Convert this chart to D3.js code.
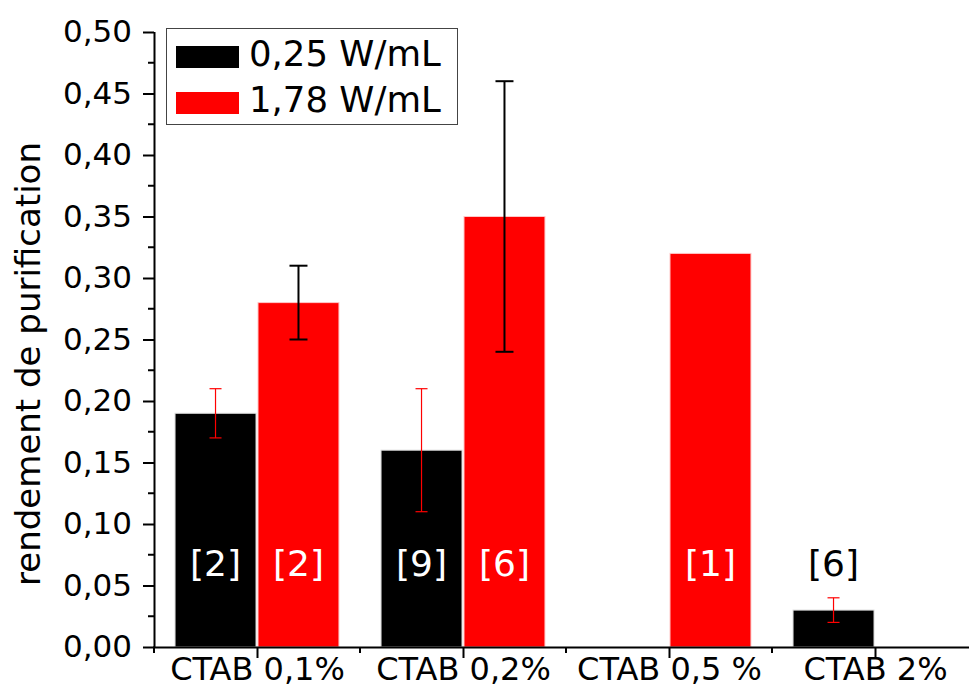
<!DOCTYPE html>
<html>
<head>
<meta charset="utf-8">
<script src="https://cdn.jsdelivr.net/npm/d3@7"></script>
<style>
  html, body { margin: 0; padding: 0; background: #fff; }
  svg { display: block; font-family: "DejaVu Sans", Verdana, sans-serif; }
</style>
</head>
<body>
<svg id="chart" width="969" height="688"></svg>
<script>
// ---- data ----
const categories = ["CTAB 0,1%", "CTAB 0,2%", "CTAB 0,5 %", "CTAB 2%"];
const seriesNames = ["0,25 W/mL", "1,78 W/mL"];
const lowPowerValues = [0.19, 0.16, null, 0.03];
const lowPowerErrLow = [0.17, 0.11, null, 0.02];
const lowPowerErrHigh = [0.21, 0.21, null, 0.04];
const highPowerValues = [0.28, 0.35, 0.32, null];
const highPowerErrLow = [0.25, 0.24, null, null];
const highPowerErrHigh = [0.31, 0.46, null, null];
const lowPowerCounts = ["[2]", "[9]", null, "[6]"];
const highPowerCounts = ["[2]", "[6]", "[1]", null];
const yTickValues = [0, 0.05, 0.10, 0.15, 0.20, 0.25, 0.30, 0.35, 0.40, 0.45, 0.50];
const yTitle = "rendement de purification";

// ---- layout ----
const svg = d3.select("#chart");
const mLeft = 154, mBottom = 647, mTop = 32, mRight = 978;
const x = d3.scaleLinear().domain([0.5, 4.5]).range([mLeft, mRight]);
const y = d3.scaleLinear().domain([0, 0.5]).range([mBottom, mTop]);
const unit = x(2) - x(1);
const barW = unit * 0.393;
const gap = 1;
const labelValue = 0.058;
const fmt = v => d3.format(".2f")(v).replace(".", ",");

const g = svg.append("g");

const lowData = categories.map((c, i) => ({i, v: lowPowerValues[i], lo: lowPowerErrLow[i], hi: lowPowerErrHigh[i], lab: lowPowerCounts[i]}));
const highData = categories.map((c, i) => ({i, v: highPowerValues[i], lo: highPowerErrLow[i], hi: highPowerErrHigh[i], lab: highPowerCounts[i]}));

// bars
g.selectAll("rect.low").data(lowData.filter(d => d.v != null)).join("rect")
  .attr("class", "low")
  .attr("x", d => x(d.i + 1) - barW - gap)
  .attr("width", barW)
  .attr("y", d => y(d.v))
  .attr("height", d => y(0) - y(d.v))
  .attr("fill", "#000")
  .attr("stroke", "#d8d8d8").attr("stroke-width", 1);

g.selectAll("rect.high").data(highData.filter(d => d.v != null)).join("rect")
  .attr("class", "high")
  .attr("x", d => x(d.i + 1) + gap)
  .attr("width", barW)
  .attr("y", d => y(d.v))
  .attr("height", d => y(0) - y(d.v))
  .attr("fill", "#ff0000")
  .attr("stroke", "#ffc8c8").attr("stroke-width", 1);

// error bars
function errBars(data, cxFn, color, sw, capW) {
  const e = g.append("g");
  data.filter(d => d.lo != null).forEach(d => {
    const cx = cxFn(d);
    e.append("line").attr("x1", cx).attr("x2", cx).attr("y1", y(d.lo)).attr("y2", y(d.hi))
      .attr("stroke", color).attr("stroke-width", sw);
    [d.lo, d.hi].forEach(v => {
      e.append("line").attr("x1", cx - capW / 2).attr("x2", cx + capW / 2)
        .attr("y1", y(v)).attr("y2", y(v)).attr("stroke", color).attr("stroke-width", sw);
    });
  });
}
errBars(lowData, d => x(d.i + 1) - gap - barW / 2, "#ff0000", 1.2, 12);
errBars(highData, d => x(d.i + 1) + gap + barW / 2, "#000", 2, 18);

// count labels
g.selectAll("text.lowlab").data(lowData.filter(d => d.lab)).join("text")
  .attr("x", d => x(d.i + 1) - gap - barW / 2)
  .attr("y", d => y(labelValue))
  .attr("text-anchor", "middle")
  .attr("font-size", 36)
  .attr("fill", d => d.v > labelValue ? "#fff" : "#000")
  .text(d => d.lab);
g.selectAll("text.highlab").data(highData.filter(d => d.lab)).join("text")
  .attr("x", d => x(d.i + 1) + gap + barW / 2)
  .attr("y", d => y(labelValue))
  .attr("text-anchor", "middle")
  .attr("font-size", 36)
  .attr("fill", d => d.v > labelValue ? "#fff" : "#000")
  .text(d => d.lab);

// y axis
const yAxis = d3.axisLeft(y).tickValues(yTickValues).tickFormat(fmt).tickSize(11).tickPadding(11);
const yg = svg.append("g").attr("transform", `translate(${mLeft},0)`).call(yAxis);
yg.select(".domain").attr("d", `M0.5,${mTop}V${mBottom}`).attr("stroke-width", 2);
yg.selectAll(".tick line").attr("stroke-width", 2);
yg.selectAll(".tick text").attr("font-size", 31).attr("font-family", "DejaVu Sans").attr("fill", "#000");
const minorY = d3.range(0.025, 0.5, 0.05);
yg.selectAll("line.minor").data(minorY).join("line").attr("class", "minor")
  .attr("x1", -6).attr("x2", 0).attr("y1", d => y(d)).attr("y2", d => y(d))
  .attr("stroke", "#000").attr("stroke-width", 2);

// x axis
const xAxis = d3.axisBottom(x).tickValues([1, 2, 3, 4]).tickFormat(d => categories[d - 1]).tickSize(11).tickPadding(5);
const xg = svg.append("g").attr("transform", `translate(0,${mBottom})`).call(xAxis);
xg.select(".domain").attr("d", `M${mLeft - 1},0.5H${mRight}`).attr("stroke-width", 2);
xg.selectAll(".tick line").attr("stroke-width", 2);
xg.selectAll(".tick text").attr("font-size", 32).attr("font-family", "DejaVu Sans").attr("fill", "#000")
  .attr("dy", null).attr("y", 33);
const minorX = [0.5, 1.5, 2.5, 3.5, 4.5];
xg.selectAll("line.minor").data(minorX).join("line").attr("class", "minor")
  .attr("x1", d => x(d)).attr("x2", d => x(d)).attr("y1", 0).attr("y2", 6)
  .attr("stroke", "#000").attr("stroke-width", 2);

// y title
svg.append("text")
  .attr("transform", `translate(40,364) rotate(-90)`)
  .attr("text-anchor", "middle")
  .attr("font-size", 34)
  .attr("fill", "#000")
  .text(yTitle);

// legend
const lg = svg.append("g");
lg.append("rect").attr("x", 166.5).attr("y", 28.5).attr("width", 291).attr("height", 96)
  .attr("fill", "#fff").attr("stroke", "#444").attr("stroke-width", 1);
const swColors = ["#000", "#ff0000"];
seriesNames.forEach((name, i) => {
  lg.append("rect").attr("x", 176).attr("y", 46 + i * 46).attr("width", 63).attr("height", 22)
    .attr("fill", swColors[i]);
  lg.append("text").attr("x", 249).attr("y", 66 + i * 46).attr("font-size", 35.5).attr("fill", "#000").text(name);
});
</script>
</body>
</html>
